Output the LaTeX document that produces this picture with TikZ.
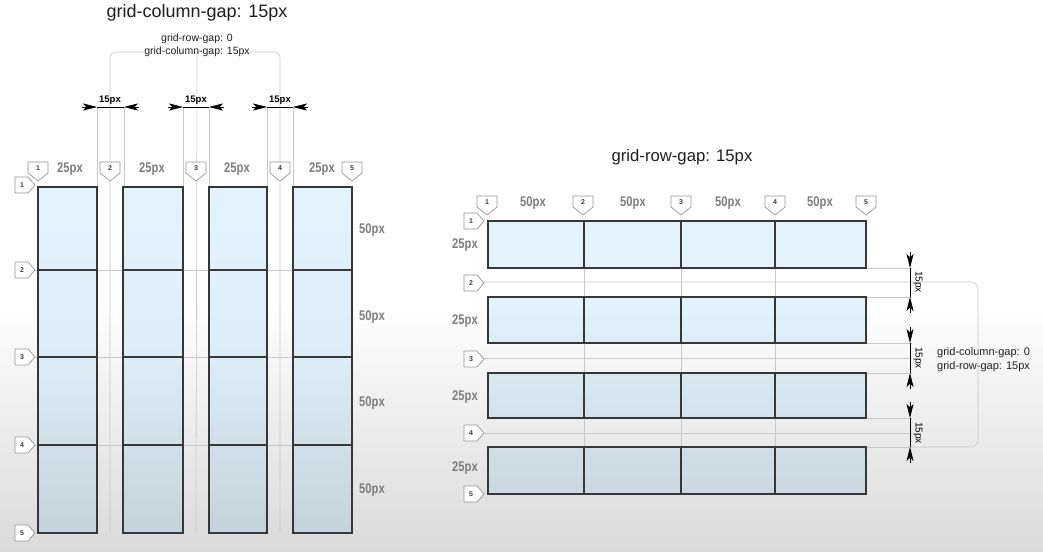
\documentclass[tikz,border=0pt]{standalone}
\usepackage{fontspec}
\setmainfont{Liberation Sans}
\newfontfamily\narrowfont[FakeStretch=0.8]{Liberation Sans}
\usetikzlibrary{arrows.meta}
\definecolor{bgbot}{RGB}{218,218,218}
\definecolor{guidec}{RGB}{200,200,200}
\definecolor{cellc}{RGB}{55,55,55}
\definecolor{mkc}{RGB}{150,150,150}
\definecolor{mktc}{RGB}{60,60,60}
\definecolor{lblc}{RGB}{125,125,125}
\definecolor{txtc}{RGB}{30,30,30}
\definecolor{ltA}{RGB}{226,243,253}
\definecolor{ltB}{RGB}{220,237,247}
\definecolor{ltC}{RGB}{196,210,219}
\definecolor{rA}{RGB}{226,243,253}
\definecolor{rB}{RGB}{220,237,247}
\definecolor{rC}{RGB}{216,233,242}
\definecolor{rD}{RGB}{211,226,236}
\definecolor{rE}{RGB}{207,222,231}
\definecolor{rF}{RGB}{201,216,225}
\tikzset{
  guide/.style={draw=guidec, line width=0.6pt},
  cell/.style={draw=cellc, line width=1.1pt},
  dimarr/.style={draw=black, line width=0.6pt, -{Stealth[length=14pt,width=7pt,inset=3.5pt]}},
  dimline/.style={draw=black, line width=0.6pt},
  mkline/.style={draw=mkc, fill=white, line width=0.7pt, line join=round},
  mktext/.style={inner sep=0pt, font=\bfseries\fontsize{7}{8}\selectfont, text=mktc},
  sizelbl/.style={inner sep=0pt, font=\narrowfont\bfseries\fontsize{14}{16}\selectfont, text=lblc},
  gaplbl/.style={inner sep=0pt, font=\bfseries\fontsize{9.5}{11}\selectfont, text=black},
  bigtitle/.style={inner sep=0pt, text=txtc},
  smalltxt/.style={inner sep=0pt, text=txtc},
}
\newcommand\GridTopMk[4]{%
  \draw[mkline] (#2,#3) ++(-10,-19) -- ++(20,0) -- ++(0,11) -- ++(-10,8) -- ++(-10,-8) -- cycle;
  \node[mktext, yshift=12.5pt] (#1) at (#2,#3) {#4};}
\newcommand\GridSideMk[4]{%
  \draw[mkline] (#2,#3) ++(-20,-8) -- ++(13,0) -- ++(7,8) -- ++(-7,8) -- ++(-13,0) -- cycle;
  \node[mktext, xshift=-13pt] (#1) at (#2,#3) {#4};}
\begin{document}
\begin{tikzpicture}[x=1pt,y=-1pt]
\useasboundingbox (0,0) rectangle (1043,551);
\fill[white] (0,0) rectangle (1043,300);
\shade[top color=white, bottom color=bgbot] (0,300) rectangle (1043,551);

% ================= LEFT: grid-column-gap =================
\node[bigtitle, font=\fontsize{18}{20}\selectfont] (titleL) at (197,13) {grid-column-gap: 15px};
\node[smalltxt, font=\fontsize{10.5}{12}\selectfont] (noteL1) at (197,39) {grid-row-gap: 0};
\node[smalltxt, font=\fontsize{10.5}{12}\selectfont] (noteL2) at (197,52) {grid-column-gap: 15px};

% guides
\draw[guide, rounded corners=6] (110,533) |- (noteL2.west);
\draw[guide, rounded corners=6] (noteL2.east) -| (280,533);
\draw[guide] (noteL2.south) ++(0,-3) -- (196,533);
\foreach \gx in {97,124,183,209,267,293}
  \draw[guide] (\gx,107) -- (\gx,187);
\foreach \gy in {270,357,445}
  \draw[guide] (34,\gy) -- (352,\gy);

% columns
\foreach \xa/\xb in {38/97,123/183,209/267,293/352} {
  \shade[top color=ltA, bottom color=ltC, middle color=ltB] (\xa,187) rectangle (\xb,533);
  \foreach \ya/\yb in {187/270,270/357,357/445,445/533}
    \draw[cell] (\xa,\ya) rectangle (\xb,\yb);
}

% gap dimensions
\foreach \i/\a/\b/\c in {1/97/124/110,2/183/209/196,3/267/293/280} {
  \coordinate (dl\i a) at (\a,107);
  \coordinate (dl\i b) at (\b,107);
  \draw[dimline] (dl\i a) -- (dl\i b);
  \draw[dimarr] (dl\i a) ++(-15,0) -- (dl\i a);
  \draw[dimarr] (dl\i b) ++(15,0) -- (dl\i b);
  \node[gaplbl] (gl\i) at (\c,100) {15px};
}

% markers
\GridTopMk{lc1}{38}{181}{1}
\GridTopMk{lc2}{110}{181}{2}
\GridTopMk{lc3}{196}{181}{3}
\GridTopMk{lc4}{280}{181}{4}
\GridTopMk{lc5}{352}{181}{5}
\GridSideMk{lr1}{35}{185}{1}
\GridSideMk{lr2}{35}{270}{2}
\GridSideMk{lr3}{35}{357}{3}
\GridSideMk{lr4}{35}{445}{4}
\GridSideMk{lr5}{35}{533}{5}

% size labels
\foreach \x [count=\k] in {70,152,237,322}
  \node[sizelbl] (lw\k) at (\x,169) {25px};
\foreach \y [count=\k] in {230,317,403,490}
  \node[sizelbl] (lh\k) at (372,\y) {50px};

% ================= RIGHT: grid-row-gap =================
\node[bigtitle, font=\fontsize{16.7}{19}\selectfont] (titleR) at (682,157) {grid-row-gap: 15px};
\node[smalltxt, font=\fontsize{11}{13}\selectfont, anchor=west] (noteR1) at (937,353) {grid-column-gap: 0};
\node[smalltxt, font=\fontsize{11}{13}\selectfont, anchor=west] (noteR2) at (937,367) {grid-row-gap: 15px};

% guides
\foreach \gx in {584,681,775}
  \draw[guide] (\gx,221) -- (\gx,494);
\foreach \gy in {358,433}
  \draw[guide] (484,\gy) -- (912,\gy);
\draw[guide, rounded corners=7] (484,282) -- (912,282) -| (978,447) -- (912,447);
\foreach \gy in {268,297,343,373,418}
  \draw[guide] (866,\gy) -- (912,\gy);
\draw[guide] (866,447) -- (912,447);

% rows
\foreach \ya/\yb/\ca/\cb in {221/268/rA/rA,297/343/rA/rB,373/418/rC/rD,447/494/rE/rF} {
  \shade[top color=\ca, bottom color=\cb] (488,\ya) rectangle (866,\yb);
  \foreach \xa/\xb in {488/584,584/681,681/775,775/866}
    \draw[cell] (\xa,\ya) rectangle (\xb,\yb);
}

% gap dimensions
\foreach \i/\a/\b/\c in {1/268/297/282,2/343/373/358,3/418/447/433} {
  \coordinate (dr\i a) at (910,\a);
  \coordinate (dr\i b) at (910,\b);
  \draw[dimline] (dr\i a) -- (dr\i b);
  \draw[dimarr] (dr\i a) ++(0,-16) -- (dr\i a);
  \draw[dimarr] (dr\i b) ++(0,16) -- (dr\i b);
  \node[gaplbl, font=\fontsize{10}{12}\selectfont, rotate=-90] (gr\i) at (918,\c) {15px};
}

% markers
\GridTopMk{rc1}{487}{215}{1}
\GridTopMk{rc2}{583}{215}{2}
\GridTopMk{rc3}{681}{215}{3}
\GridTopMk{rc4}{775}{215}{4}
\GridTopMk{rc5}{866}{215}{5}
\GridSideMk{rr1}{484}{221}{1}
\GridSideMk{rr2}{484}{283}{2}
\GridSideMk{rr3}{484}{359}{3}
\GridSideMk{rr4}{484}{433}{4}
\GridSideMk{rr5}{484}{494}{5}

% size labels
\foreach \x [count=\k] in {533,633,728,820}
  \node[sizelbl] (rw\k) at (\x,203) {50px};
\foreach \y [count=\k] in {245,321,397,468}
  \node[sizelbl] (rh\k) at (465,\y) {25px};
\end{tikzpicture}
\end{document}
